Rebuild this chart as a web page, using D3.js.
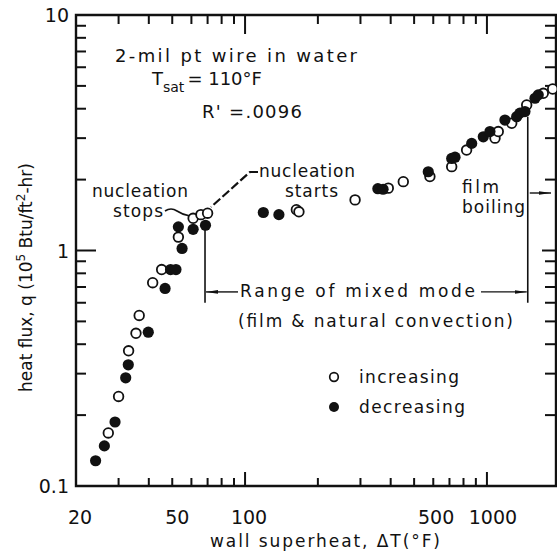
<!DOCTYPE html>
<html>
<head>
<meta charset="utf-8">
<script src="https://cdn.jsdelivr.net/npm/d3@7"></script>
<style>
    html, body { margin: 0; padding: 0; background: #fff; }
    svg text { font-family: "DejaVu Sans", sans-serif; fill: #111; }
</style>
</head>
<body>
<div id="chart"></div>
<script>
(function () {

    /* ── data (wall superheat °F, heat flux 1e5 Btu/ft²-hr) ───────── */
    var increasingDT = [27.2, 30, 33, 35.4, 36.5, 41.5, 45.2, 53, 61, 65.7, 70,
                        163, 167, 285, 391, 451, 581, 715, 824, 1080, 1114, 1266, 1460, 1710, 1870];
    var increasingQ  = [0.168, 0.24, 0.375, 0.445, 0.53, 0.73, 0.83, 1.14, 1.37, 1.42, 1.44,
                        1.49, 1.46, 1.64, 1.84, 1.96, 2.06, 2.27, 2.67, 3.0, 3.2, 3.47, 4.15, 4.65, 4.85];

    var decreasingDT = [24.1, 26.2, 29, 32.1, 32.9, 39.8, 46.7, 49.2, 51.8, 54.9, 53, 61, 68.6,
                        119, 138, 354, 372, 572, 715, 738, 865, 966, 1029, 1187, 1327, 1369, 1436, 1580, 1630];
    var decreasingQ  = [0.128, 0.148, 0.187, 0.288, 0.327, 0.45, 0.69, 0.83, 0.83, 1.02, 1.26, 1.23, 1.28,
                        1.45, 1.42, 1.83, 1.82, 2.16, 2.46, 2.49, 2.85, 3.04, 3.2, 3.58, 3.70, 3.83, 3.89, 4.43, 4.58];

    var xTickLabels  = [20, 50, 100, 500, 1000];
    var xMajorTicks  = [100, 1000];
    var xMinorTicks  = [30, 40, 50, 60, 70, 80, 90, 200, 300, 400, 500, 600, 700, 800, 900];
    var yTickLabels  = [0.1, 1, 10];
    var yMajorTicks  = [1];
    var yMinorTicks  = [0.2, 0.3, 0.4, 0.5, 0.6, 0.7, 0.8, 0.9, 2, 3, 4, 5, 6, 7, 8, 9];

    var mixedModeRange = [68.3, 1475];   // ΔT of the two bracket lines
    var mixedModeQ     = 0.667;          // level of the range arrow

    /* ── layout ───────────────────────────────────────────────────── */
    var W = 557, H = 552;

    var x = d3.scaleLog().domain([20, 1930]).range([76, 556]);
    var y = d3.scaleLog().domain([0.1, 10]).range([486, 15]);

    var X0 = x.range()[0], X1 = x.range()[1];
    var Y0 = y.range()[0], Y1 = y.range()[1];

    var svg = d3.select("#chart").append("svg")
        .attr("width", W).attr("height", H);

    var defs = svg.append("defs");
    defs.append("marker")
        .attr("id", "arrow")
        .attr("viewBox", "0 0 12 6")
        .attr("refX", 12).attr("refY", 3)
        .attr("markerWidth", 12).attr("markerHeight", 6)
        .attr("markerUnits", "userSpaceOnUse")
        .attr("orient", "auto")
        .append("path")
        .attr("d", "M0,1.2 L12,3 L0,4.8 Z")
        .attr("fill", "#111");

    /* ── frame ────────────────────────────────────────────────────── */
    svg.append("path")
        .attr("d", "M" + X0 + "," + Y1 + "H" + X1 + "V" + Y0 + "H" + X0 + "Z")
        .attr("fill", "none")
        .attr("stroke", "#111")
        .attr("stroke-width", 2.4);

    /* ── inward ticks ─────────────────────────────────────────────── */
    var tickG = svg.append("g")
        .attr("stroke", "#111")
        .attr("stroke-width", 2);

    function xTicks(values, yPos, len) {
        tickG.selectAll(null).data(values).enter().append("line")
            .attr("x1", function (d) { return x(d); })
            .attr("x2", function (d) { return x(d); })
            .attr("y1", yPos).attr("y2", yPos + len);
    }
    function yTicks(values, xPos, len) {
        tickG.selectAll(null).data(values).enter().append("line")
            .attr("y1", function (d) { return y(d); })
            .attr("y2", function (d) { return y(d); })
            .attr("x1", xPos).attr("x2", xPos + len);
    }

    xTicks(xMinorTicks, Y0, -8);
    xTicks(xMajorTicks, Y0, -14);
    xTicks(xMinorTicks, Y1, 9);
    xTicks(xMajorTicks, Y1, 19);
    yTicks(yMinorTicks, X0, 10);
    yTicks(yMajorTicks, X0, 20);
    yTicks(yMinorTicks, X1, -11);
    yTicks(yMajorTicks, X1, -14);

    // tick labels
    var labelNudge = { 20: 4, 50: 5, 100: 4, 500: 22, 1000: 6 };
    svg.selectAll(".xlab").data(xTickLabels).enter().append("text")
        .attr("class", "xlab")
        .attr("x", function (d) { return x(d) + labelNudge[d]; })
        .attr("y", 524)
        .attr("text-anchor", "middle")
        .style("font-size", "19px")
        .text(function (d) { return d; });

    svg.selectAll(".ylab").data(yTickLabels).enter().append("text")
        .attr("class", "ylab")
        .attr("x", 69)
        .attr("y", function (d) { return y(d) + 7; })
        .attr("text-anchor", "end")
        .style("font-size", "19px")
        .text(function (d) { return d === 0.1 ? "0.1" : d; });

    // axis titles
    svg.append("text")
        .attr("x", 325).attr("y", 547)
        .attr("text-anchor", "middle")
        .attr("textLength", 230).attr("lengthAdjust", "spacing")
        .style("font-size", "17px")
        .text("wall superheat, ΔT(°F)");

    var yt = svg.append("text")
        .attr("transform", "translate(32,392) rotate(-90)")
        .style("font-size", "17px");
    yt.append("tspan").text("heat flux, q (10");
    yt.append("tspan").attr("dy", -7).style("font-size", "12px").text("5");
    yt.append("tspan").attr("dy", 7).text(" Btu/ft");
    yt.append("tspan").attr("dy", -7).style("font-size", "12px").text("2");
    yt.append("tspan").attr("dy", 7).text("-hr)");

    /* ── annotations ──────────────────────────────────────────────── */
    function label(txt, px, py, len, size) {
        return svg.append("text")
            .attr("x", px).attr("y", py)
            .attr("textLength", len).attr("lengthAdjust", "spacing")
            .style("font-size", (size || 17) + "px")
            .text(txt);
    }

    label("2-mil pt wire in water", 115, 62, 242, 18);

    var ts = svg.append("text").attr("x", 152).attr("y", 85).style("font-size", "18px");
    ts.append("tspan").text("T");
    ts.append("tspan").attr("dy", 7).style("font-size", "14px").text("sat");
    ts.append("tspan").attr("dy", -7).attr("dx", 3).text("= 110°F");

    label("R' =.0096", 202, 118, 100, 18);

    label("nucleation", 92, 197, 96);
    label("stops", 113, 217, 50);
    label("nucleation", 259, 177, 96);
    label("starts", 285, 197, 53);
    label("film", 462, 193, 37);
    label("boiling", 462, 213, 63);
    label("Range of mixed mode", 240, 297, 235);
    label("(film & natural convection)", 238, 327, 275);

    // leader lines
    svg.append("path")
        .attr("d", "M165,211 Q171,207 177,211 T190,216")
        .attr("fill", "none").attr("stroke", "#111").attr("stroke-width", 1.6);
    svg.append("path")
        .attr("d", "M258,172 H250 L211,207")
        .attr("fill", "none").attr("stroke", "#111").attr("stroke-width", 2.2)
        .attr("stroke-dasharray", "9 3");

    // mixed-mode bracket
    var bx0 = x(mixedModeRange[0]), bx1 = x(mixedModeRange[1]);
    var ya = y(mixedModeQ);
    svg.append("line")
        .attr("x1", bx0).attr("x2", bx0).attr("y1", y(1.26)).attr("y2", y(0.6))
        .attr("stroke", "#111").attr("stroke-width", 1.6);
    svg.append("line")
        .attr("x1", bx1).attr("x2", bx1).attr("y1", y(3.7)).attr("y2", y(0.6))
        .attr("stroke", "#111").attr("stroke-width", 1.6);
    svg.append("line")
        .attr("x1", 238).attr("x2", bx0 + 1).attr("y1", ya).attr("y2", ya)
        .attr("stroke", "#111").attr("stroke-width", 1.4)
        .attr("marker-end", "url(#arrow)");
    svg.append("line")
        .attr("x1", 481).attr("x2", bx1 - 1).attr("y1", ya).attr("y2", ya)
        .attr("stroke", "#111").attr("stroke-width", 1.4)
        .attr("marker-end", "url(#arrow)");
    // film boiling pointer
    svg.append("line")
        .attr("x1", bx1 + 2).attr("x2", 551).attr("y1", 193).attr("y2", 193)
        .attr("stroke", "#111").attr("stroke-width", 1.4)
        .attr("marker-end", "url(#arrow)");

    /* ── points ───────────────────────────────────────────────────── */
    var inc = increasingDT.map(function (d, i) { return [d, increasingQ[i]]; });
    var dec = decreasingDT.map(function (d, i) { return [d, decreasingQ[i]]; });

    svg.append("g").selectAll("circle").data(inc).enter().append("circle")
        .attr("cx", function (d) { return x(d[0]); })
        .attr("cy", function (d) { return y(d[1]); })
        .attr("r", 4.8)
        .attr("fill", "#fff")
        .attr("stroke", "#111")
        .attr("stroke-width", 1.8);

    svg.append("g").selectAll("circle").data(dec).enter().append("circle")
        .attr("cx", function (d) { return x(d[0]); })
        .attr("cy", function (d) { return y(d[1]); })
        .attr("r", 5.6)
        .attr("fill", "#111");

    /* ── legend ───────────────────────────────────────────────────── */
    svg.append("circle").attr("cx", 334).attr("cy", 377).attr("r", 4.3)
        .attr("fill", "#fff").attr("stroke", "#111").attr("stroke-width", 1.7);
    svg.append("circle").attr("cx", 334).attr("cy", 407).attr("r", 5)
        .attr("fill", "#111");
    label("increasing", 359, 383, 100);
    label("decreasing", 359, 413, 106);

}());
</script>
</body>
</html>
